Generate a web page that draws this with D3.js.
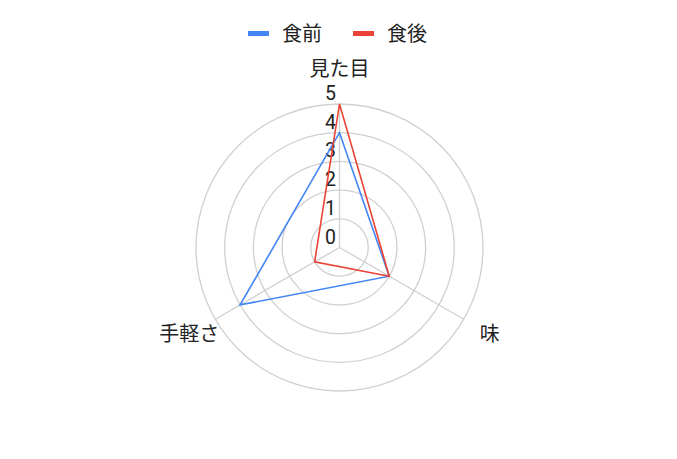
<!DOCTYPE html>
<html>
<head>
<meta charset="utf-8">
<script src="https://cdn.jsdelivr.net/npm/d3@7"></script>
<style>
  body { margin: 0; background: #fff; }
  svg { display: block; }
</style>
</head>
<body>
<div id="chart"></div>
<script>
// radar chart data
const axes = ["見た目", "味", "手軽さ"];
const seriesNames = ["食前", "食後"];
const before = [4, 2, 4];
const after = [5, 2, 1];
const tickValues = [0, 1, 2, 3, 4, 5];
const colors = ["#4285f4", "#ea4335"];

const width = 677, height = 459;
const cx = 339.5, cy = 247.5, R = 143.5;
const cjk = "'Noto Sans CJK JP', 'Noto Sans', sans-serif";

const svg = d3.select("#chart").append("svg")
    .attr("width", width)
    .attr("height", height);

const r = d3.scaleLinear().domain([0, 5]).range([0, R]);
const angle = d3.scaleLinear().domain([0, axes.length]).range([0, 2 * Math.PI]);

const g = svg.append("g").attr("transform", `translate(${cx},${cy})`);

// rings
g.selectAll(".ring")
    .data(tickValues.filter(d => d > 0))
    .enter().append("circle")
    .attr("r", d => r(d))
    .attr("fill", "none")
    .attr("stroke", "#d0d0d0")
    .attr("stroke-width", 1.3);

// spokes
g.selectAll(".spoke")
    .data(axes)
    .enter().append("line")
    .attr("x1", 0).attr("y1", 0)
    .attr("x2", (d, i) => R * Math.sin(angle(i)))
    .attr("y2", (d, i) => -R * Math.cos(angle(i)))
    .attr("stroke", "#d0d0d0")
    .attr("stroke-width", 1.3);

// tick labels, a bit above each ring
g.selectAll(".tick")
    .data(tickValues)
    .enter().append("text")
    .attr("x", -9)
    .attr("y", d => -r(d) - 11)
    .attr("dy", "0.36em")
    .attr("text-anchor", "middle")
    .style("font-family", "Roboto, sans-serif")
    .style("font-size", "19.5px")
    .style("fill", "#222")
    .text(d => d);

// axis names
g.selectAll(".axis-label")
    .data(axes)
    .enter().append("text")
    .attr("x", (d, i) => (R + 30) * Math.sin(angle(i)))
    .attr("y", (d, i) => -(R + 30) * Math.cos(angle(i)) - (i === 0 ? 5 : 0))
    .attr("dy", "0.36em")
    .attr("text-anchor", "middle")
    .style("font-family", cjk)
    .style("font-size", "20px")
    .style("fill", "#222")
    .text(d => d);

// data polygons
const radar = d3.lineRadial()
    .angle((d, i) => angle(i))
    .radius(d => r(d))
    .curve(d3.curveLinearClosed);

[before, after].forEach((vals, k) => {
    g.append("path")
        .attr("d", radar(vals))
        .attr("fill", "none")
        .attr("stroke", colors[k])
        .attr("stroke-width", 1.6);
});

// legend at the top
const legendX = [248, 353];
const legend = svg.selectAll(".legend")
    .data(seriesNames)
    .enter().append("g")
    .attr("transform", (d, i) => `translate(${legendX[i]},33.5)`);

legend.append("rect")
    .attr("x", 0).attr("y", -2.5)
    .attr("width", 21).attr("height", 5)
    .attr("fill", (d, i) => colors[i]);

legend.append("text")
    .attr("x", 34)
    .attr("dy", "0.36em")
    .style("font-family", cjk)
    .style("font-size", "20px")
    .style("fill", "#222")
    .text(d => d);
</script>
</body>
</html>
